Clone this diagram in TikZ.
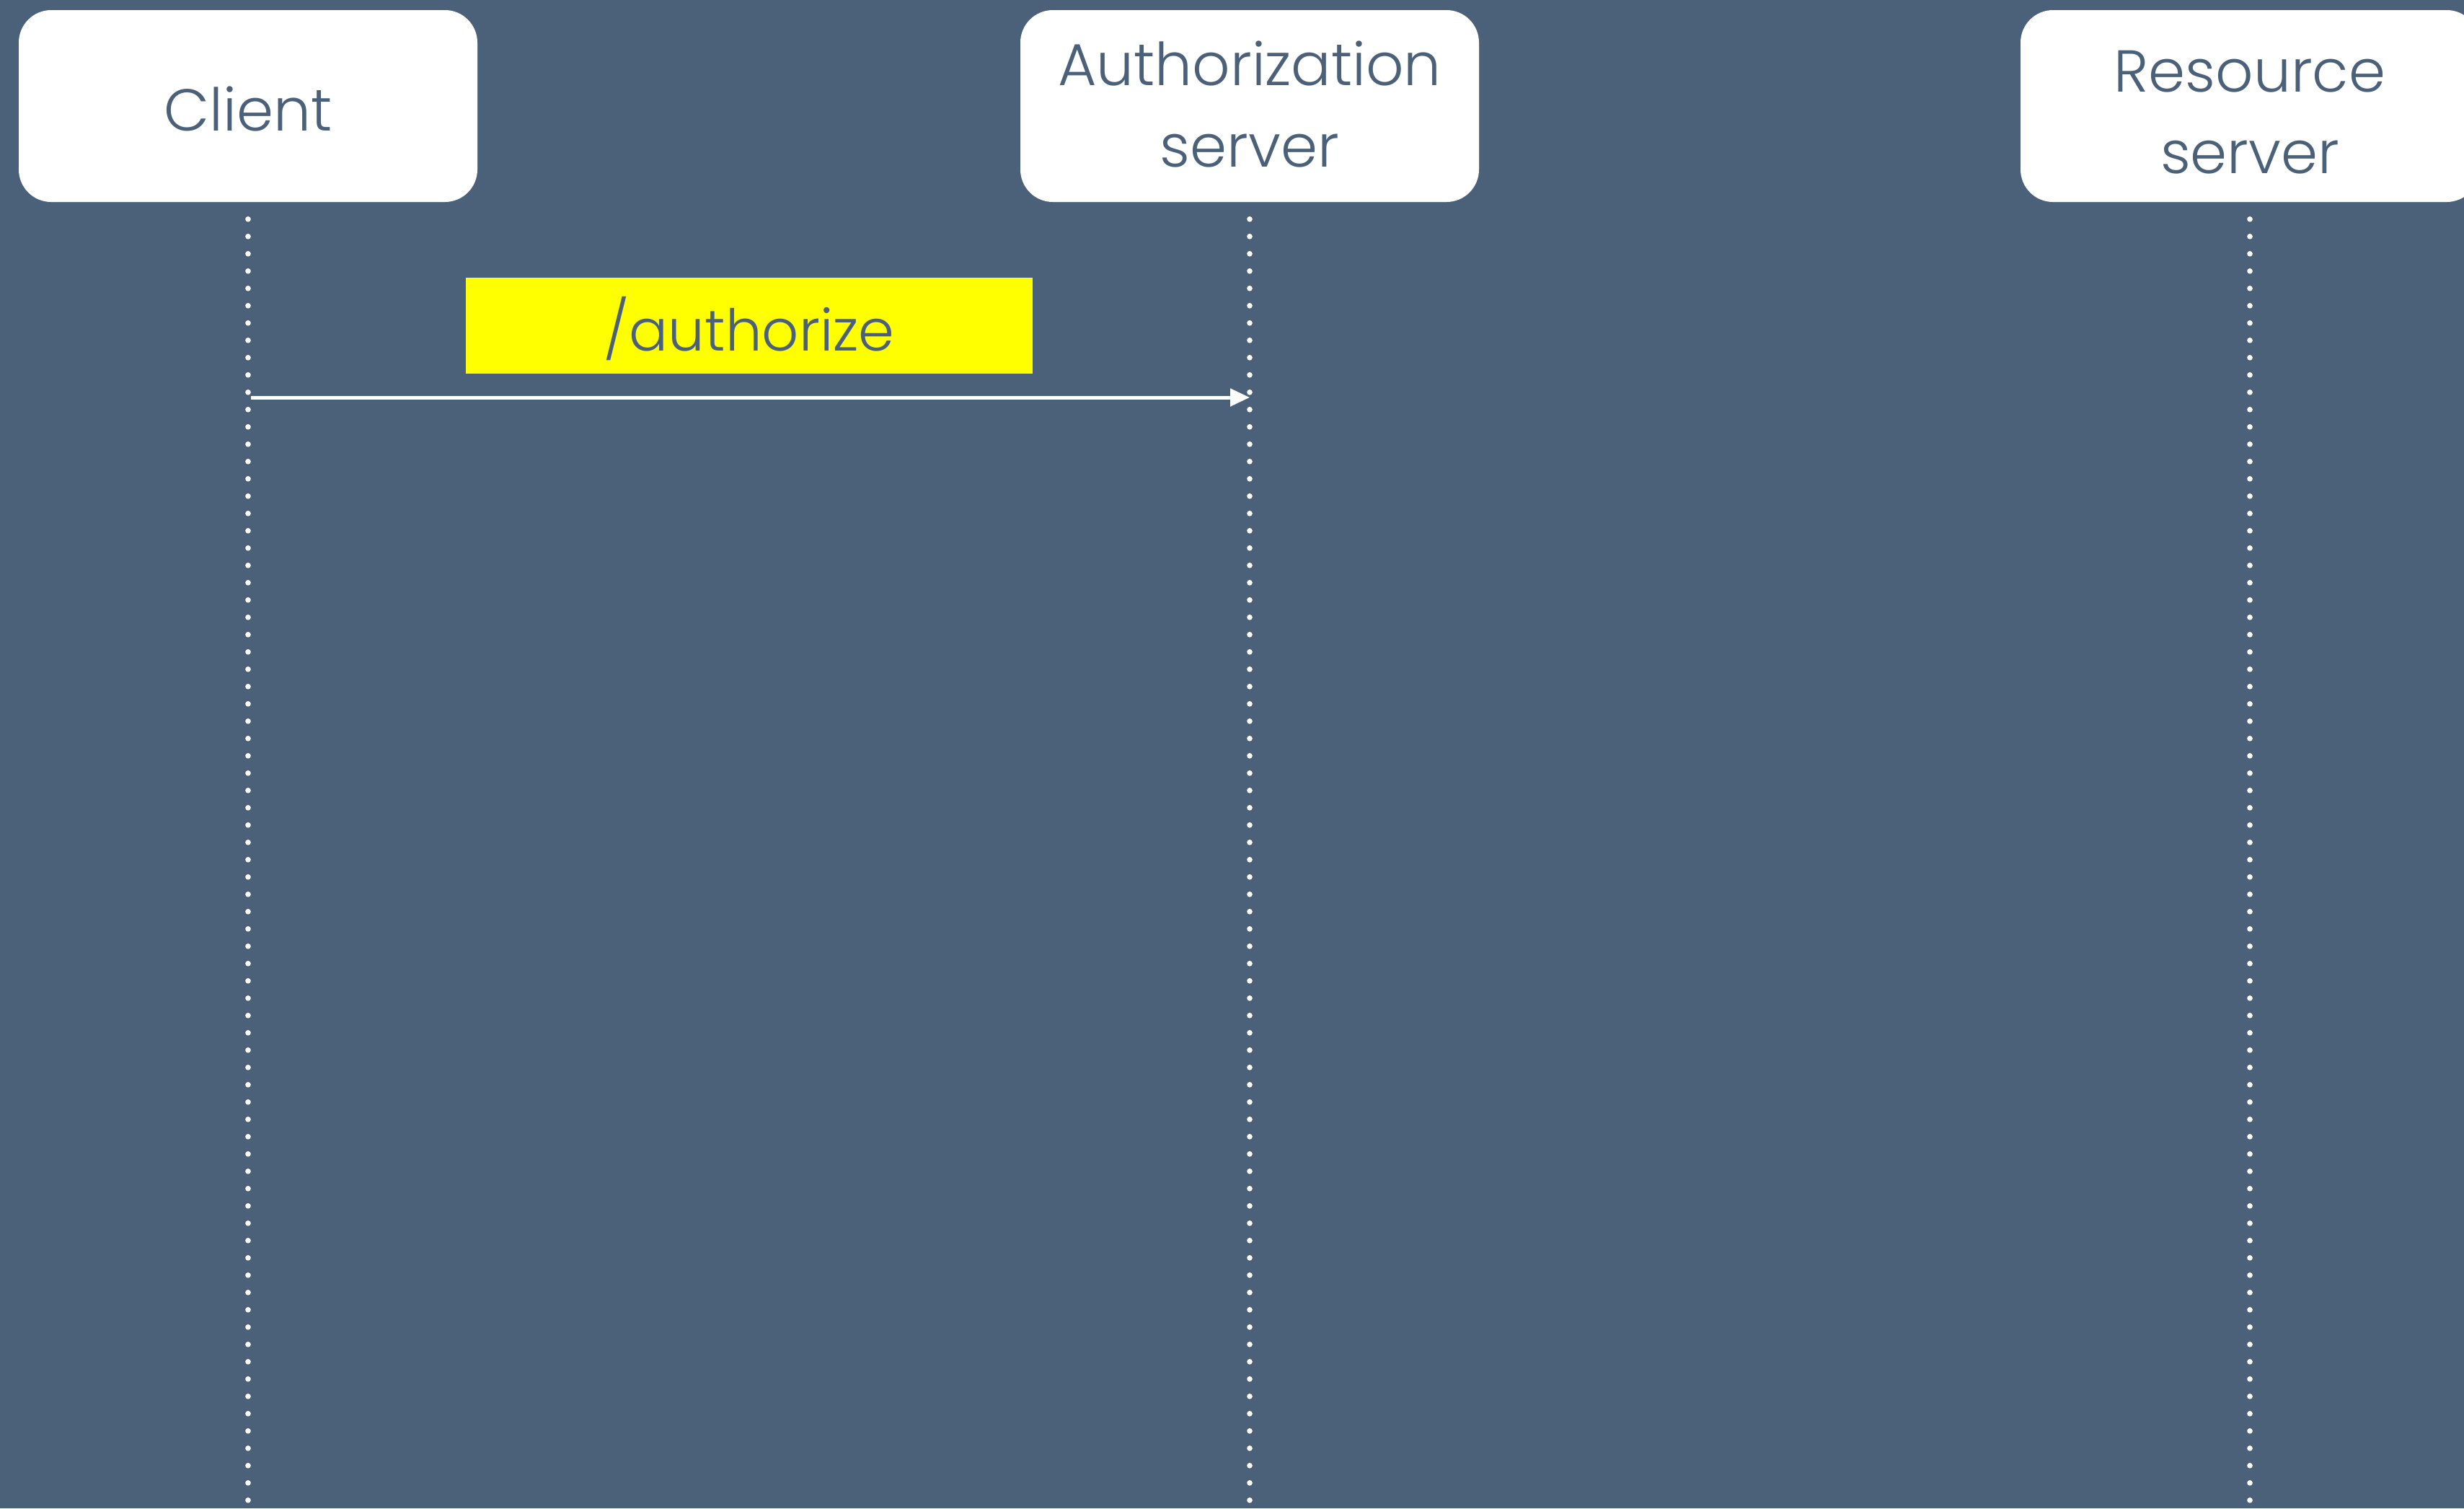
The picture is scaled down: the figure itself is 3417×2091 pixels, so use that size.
\documentclass[tikz,border=0pt]{standalone}
\usepackage{fontspec}
\setmainfont{Poppins}[UprightFont=* Light]
\usetikzlibrary{arrows.meta}
\definecolor{slate}{HTML}{4B6079}
\definecolor{hl}{HTML}{FFFF00}
% shift a line of text vertically without changing its box dimensions
\newcommand{\nudge}[2]{\raisebox{#1}[\height][\depth]{#2}}
\begin{document}
\begin{tikzpicture}[x=0.25pt,y=-0.25pt,
  actor/.style={fill=white, rounded corners=11.25pt, minimum width=159pt,
    minimum height=66.5pt, text=slate, align=center, inner sep=0pt,
    font=\fontsize{20.5}{28.25}\selectfont},
  lifeline/.style={draw=white, line width=1.9pt, line cap=round,
    dash pattern=on 0pt off 6pt},
  msg/.style={draw=white, line width=1.25pt,
    -{Triangle[length=6.75pt,width=6pt]}},
  tag/.style={fill=hl, text=slate, minimum width=196.5pt,
    minimum height=33.25pt, inner sep=0pt,
    font=\fontsize{20}{26}\selectfont}]
% background
\fill[slate] (0,0) rectangle (3417,2091);
\useasboundingbox (0,0) rectangle (3417,2091);

% participants
\node[actor] (client) at (344,147) {\nudge{-1pt}{Client}};
\node[actor] (auth) at (1733,147) {\nudge{0.6pt}{Authorization}\\\nudge{0.6pt}{server}};
\node[actor] (res) at (3120,147) {\nudge{-2.2pt}{Resource}\\\nudge{-2.2pt}{server}};

% lifeline ends
\coordinate (clientend) at (344,2100);
\coordinate (authend) at (1733,2100);
\coordinate (resend) at (3120,2100);

\draw[lifeline] ([yshift=-5.75pt]client.south) -- (clientend);
\draw[lifeline] ([yshift=-5.75pt]auth.south) -- (authend);
\draw[lifeline] ([yshift=-5.75pt]res.south) -- (resend);

% message
\node[tag] (lbl) at (1039,451.5) {\nudge{-1pt}{/authorize}};
\coordinate (m1) at (0,551);
\draw[msg] ([xshift=1pt]client.south |- m1) -- (auth.south |- m1);
\end{tikzpicture}
\end{document}
